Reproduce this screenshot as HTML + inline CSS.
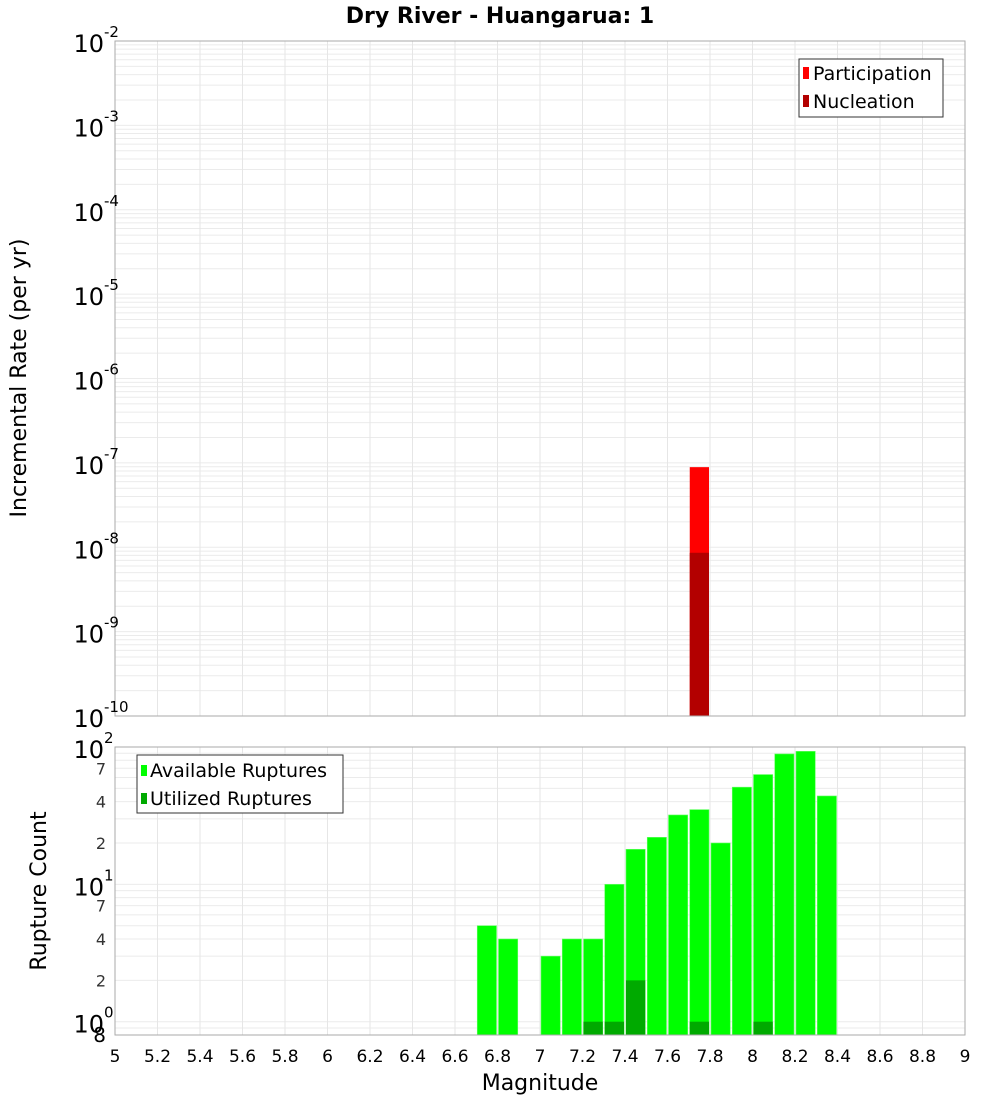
<!DOCTYPE html>
<html><head><meta charset="utf-8">
<style>
body{margin:0;background:#fff;}
svg{display:block;font-family:"DejaVu Sans","Liberation Sans",sans-serif;}
</style></head>
<body>
<svg id="chart" width="1000" height="1100" xmlns="http://www.w3.org/2000/svg">
<rect width="1000" height="1100" fill="#fff"/>
<text x="500" y="23" text-anchor="middle" font-size="22" font-weight="bold">Dry River - Huangarua: 1</text>
<g id="topplot"></g>
<g id="botplot"></g>
<text transform="translate(26,378) rotate(-90)" text-anchor="middle" font-size="22">Incremental Rate (per yr)</text>
<text transform="translate(46,891) rotate(-90)" text-anchor="middle" font-size="22">Rupture Count</text>
<text x="540" y="1090" text-anchor="middle" font-size="22">Magnitude</text>
<g>
<rect x="799" y="59" width="144" height="58" fill="#fff" stroke="#333"/>
<rect x="803" y="67" width="6" height="12" fill="#ff0000"/>
<text x="813" y="80" font-size="19">Participation</text>
<rect x="803" y="95" width="6" height="12" fill="#b30000"/>
<text x="813" y="108" font-size="19">Nucleation</text>
</g>
<g>
<rect x="137" y="755" width="206" height="58" fill="#fff" stroke="#333"/>
<rect x="141" y="765" width="6" height="11" fill="#00ff00"/>
<text x="150" y="777" font-size="19">Available Ruptures</text>
<rect x="141" y="793" width="6" height="11" fill="#00aa00"/>
<text x="150" y="805" font-size="19">Utilized Ruptures</text>
</g>
</svg>
<script>
const xTicks=[5,5.2,5.4,5.6,5.8,6,6.2,6.4,6.6,6.8,7,7.2,7.4,7.6,7.8,8,8.2,8.4,8.6,8.8,9];
const rateMags=[7.75];
const participationRates=[8.9e-8];
const nucleationRates=[8.6e-9];
const countMags=[6.75,6.85,7.05,7.15,7.25,7.35,7.45,7.55,7.65,7.75,7.85,7.95,8.05,8.15,8.25,8.35];
const availableCounts=[5,4,3,4,4,10,18,22,32,35,20,51,63,89,93,44];
const utilizedMags=[7.25,7.35,7.45,7.75,8.05];
const utilizedCounts=[1,1,2,1,1];
const rateDecades=[-10,-9,-8,-7,-6,-5,-4,-3,-2];
const countMinorLabels=[2,4,7];

const NS="http://www.w3.org/2000/svg";
const L=115,R=965;
const xs=m=>L+(m-5)/4*(R-L);
const T1=41,B1=716,yT=v=>T1+(-2-Math.log10(v))/8*(B1-T1);
const T2=747,B2=1035,yB=v=>T2+(2-Math.log10(v))/Math.log10(100/0.8)*(B2-T2);
function mk(p,tag,a){const e=document.createElementNS(NS,tag);for(const k in a)e.setAttribute(k,a[k]);p.appendChild(e);return e;}
const topG=document.getElementById('topplot'),botG=document.getElementById('botplot');

for(let d=-10;d<-2;d++)for(let k=1;k<10;k++){const y=yT(k*Math.pow(10,d));
const g=mk(topG,'line',{x1:L,x2:R,y1:y,y2:y,stroke:'#ebebeb','stroke-width':1});

}
xTicks.forEach(t=>{const g=mk(topG,'line',{x1:xs(t),x2:xs(t),y1:T1,y2:B1,stroke:'#e6e6e6'});

});
rateMags.forEach((m,i)=>{
const p=mk(topG,'rect',{x:xs(m-0.05)+1,width:xs(m+0.05)-xs(m-0.05)-2,y:yT(participationRates[i]),height:B1-yT(participationRates[i]),fill:'#ff0000'});


const n=mk(topG,'rect',{x:xs(m-0.05)+1,width:xs(m+0.05)-xs(m-0.05)-2,y:yT(nucleationRates[i]),height:B1-yT(nucleationRates[i]),fill:'#b30000'});

});
mk(topG,'rect',{x:L,y:T1,width:R-L,height:B1-T1,fill:'none',stroke:'#aaa'});
rateDecades.forEach(d=>{const y=yT(Math.pow(10,d));
const t=mk(topG,'text',{x:104,y:y+11,'text-anchor':'end','font-size':24});t.textContent='10';


const s=mk(topG,'text',{x:104,y:y-4,'font-size':15});s.textContent=String(d);

});

for(let d=-1;d<2;d++)for(let k=1;k<10;k++){const v=k*Math.pow(10,d);if(v<0.8||v>100)continue;const y=yB(v);
const g=mk(botG,'line',{x1:L,x2:R,y1:y,y2:y,stroke:'#ebebeb'});

}
xTicks.forEach(t=>{const g=mk(botG,'line',{x1:xs(t),x2:xs(t),y1:T2,y2:B2,stroke:'#e6e6e6'});

});
countMags.forEach((m,i)=>{const y=yB(availableCounts[i]);
const b=mk(botG,'rect',{x:xs(m-0.05)+1,width:xs(m+0.05)-xs(m-0.05)-2,y:y,height:B2-y,fill:'#00ff00',stroke:'#66ff66','stroke-width':0.6});

});
utilizedMags.forEach((m,i)=>{const y=yB(utilizedCounts[i]);
const b=mk(botG,'rect',{x:xs(m-0.05)+1,width:xs(m+0.05)-xs(m-0.05)-2,y:y,height:B2-y,fill:'#00aa00'});

});
mk(botG,'rect',{x:L,y:T2,width:R-L,height:B2-T2,fill:'none',stroke:'#aaa'});
[0,1,2].forEach(d=>{const y=yB(Math.pow(10,d));
const t=mk(botG,'text',{x:104,y:y+11,'text-anchor':'end','font-size':24});t.textContent='10';


const s=mk(botG,'text',{x:104,y:y-4,'font-size':15});s.textContent=String(d);

});
[0,1].forEach(d=>countMinorLabels.forEach(k=>{const y=yB(k*Math.pow(10,d));
const t=mk(botG,'text',{x:106,y:y+6,'text-anchor':'end','font-size':16,fill:'#333'});t.textContent=String(k);

}));
{const t=mk(botG,'text',{x:106,y:yB(0.8)+7,'text-anchor':'end','font-size':20});t.textContent='8';

}
xTicks.forEach(t=>{const e=mk(botG,'text',{x:xs(t),y:1062,'text-anchor':'middle','font-size':17});e.textContent=String(t);

});
</script>
</body></html>
